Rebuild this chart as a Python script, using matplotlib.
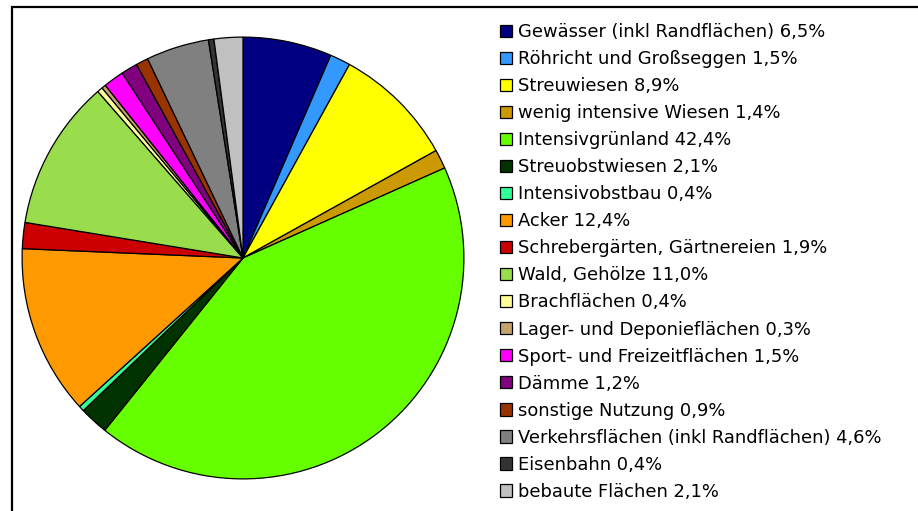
import matplotlib.pyplot as plt
from matplotlib.patches import Rectangle

# Flächennutzung, Anteile in %
categories = ["Gewässer (inkl Randflächen)", "Röhricht und Großseggen", "Streuwiesen",
              "wenig intensive Wiesen", "Intensivgrünland", "Streuobstwiesen",
              "Intensivobstbau", "Acker", "Schrebergärten, Gärtnereien", "Wald, Gehölze",
              "Brachflächen", "Lager- und Deponieflächen", "Sport- und Freizeitflächen",
              "Dämme", "sonstige Nutzung", "Verkehrsflächen (inkl Randflächen)",
              "Eisenbahn", "bebaute Flächen"]
shares = [6.5, 1.5, 8.9, 1.4, 42.4, 2.1, 0.4, 12.4, 1.9, 11.0, 0.4, 0.3, 1.5, 1.2, 0.9, 4.6, 0.4, 2.1]
colors = ["#000080", "#3399FF", "#FFFF00", "#CC9900", "#66FF00", "#003300",
          "#33FF99", "#FF9900", "#CC0000", "#99DD4C", "#FFFF99", "#C4A46C",
          "#FF00FF", "#800080", "#993300", "#808080", "#333333", "#C0C0C0"]

W, H = 918, 511
fig = plt.figure(figsize=(W / 100, H / 100), dpi=100)
fig.patches.append(Rectangle((12 / W, -0.1), 1.2, 1 - 7 / H + 0.1, transform=fig.transFigure,
                             fill=False, edgecolor="black", linewidth=1.6))

cx, cy, r = 243, 258, 222
ax = fig.add_axes([(cx - r) / W, (H - cy - r) / H, 2 * r / W, 2 * r / H])
wedges, _ = ax.pie(shares, colors=colors, startangle=90, counterclock=False, radius=1,
                   wedgeprops=dict(edgecolor="black", linewidth=0.9))
ax.set_xlim(-1.005, 1.005)
ax.set_ylim(-1.005, 1.005)
ax.set_aspect("equal")
ax.axis("off")

labels = [f"{c} {str(v).replace('.', ',')}%" for c, v in zip(categories, shares)]
fig.legend(wedges, labels, loc="upper left", bbox_to_anchor=(500 / W, 1 - 23 / H),
           frameon=False, prop=dict(family="DejaVu Sans", size=12.9),
           handlelength=0.68, handleheight=0.68, handletextpad=0.34,
           labelspacing=0.505, borderpad=0, borderaxespad=0)

fig.savefig("out.png", dpi=100)
